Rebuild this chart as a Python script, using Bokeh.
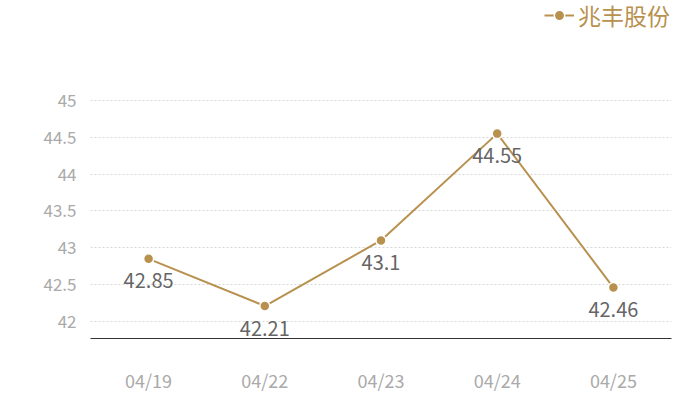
from bokeh.plotting import figure
from bokeh.models import ColumnDataSource, Range1d, FixedTicker, Legend, LegendItem
from bokeh.core.properties import value
from bokeh.embed import file_html
from bokeh.resources import INLINE

dates = ["04/19", "04/22", "04/23", "04/24", "04/25"]
prices = [42.85, 42.21, 43.1, 44.55, 42.46]
price_labels = ["42.85", "42.21", "43.1", "44.55", "42.46"]
series_name = "兆丰股份"
y_ticks = [42, 42.5, 43, 43.5, 44, 44.5, 45]

GOLD = "#b8914f"
FONT = "Noto Sans CJK SC"

src = ColumnDataSource(dict(x=dates, y=prices, lab=price_labels))

p = figure(width=700, height=400, x_range=dates, y_range=Range1d(41.769, 46.357),
           output_backend="svg", toolbar_location=None,
           min_border_left=90, min_border_right=29, min_border_bottom=62, min_border_top=0)
p.outline_line_color = None
p.background_fill_color = "white"

ln = p.line("x", "y", source=src, line_color=GOLD, line_width=2)
sc = p.scatter("x", "y", source=src, size=10, fill_color=GOLD, line_color="white", line_width=1.5)
p.text("x", "y", text="lab", source=src, text_align="center", text_baseline="middle",
       y_offset=22, text_font=value(FONT), text_font_size="20px", text_color="#666666")

p.xgrid.grid_line_color = None
p.ygrid.grid_line_color = "#d6d6d6"
p.ygrid.grid_line_dash = "2 2"
p.ygrid.grid_line_width = 1

p.yaxis.ticker = FixedTicker(ticks=y_ticks)
p.yaxis.axis_line_color = None
p.yaxis.major_tick_line_color = None
p.yaxis.minor_tick_line_color = None
p.yaxis.major_label_text_color = "#aaaaaa"
p.yaxis.major_label_text_font = FONT
p.yaxis.major_label_text_font_size = "17px"
p.yaxis.major_label_standoff = 8

p.xaxis.axis_line_color = "#333333"
p.xaxis.axis_line_width = 1
p.xaxis.major_tick_line_color = None
p.xaxis.minor_tick_line_color = None
p.xaxis.major_label_text_color = "#aaaaaa"
p.xaxis.major_label_text_font = FONT
p.xaxis.major_label_text_font_size = "18px"
p.xaxis.major_label_standoff = 22

legend = Legend(items=[LegendItem(label=series_name, renderers=[ln, sc])],
                location=(454, 306), orientation="horizontal",
                label_text_font=FONT, label_text_font_size="23px", label_text_color=GOLD,
                glyph_width=30, glyph_height=26, padding=0, margin=0, spacing=0,
                label_standoff=4, border_line_color=None, background_fill_alpha=0)
p.add_layout(legend, "center")

open("out.html", "w").write(file_html(p, INLINE))
